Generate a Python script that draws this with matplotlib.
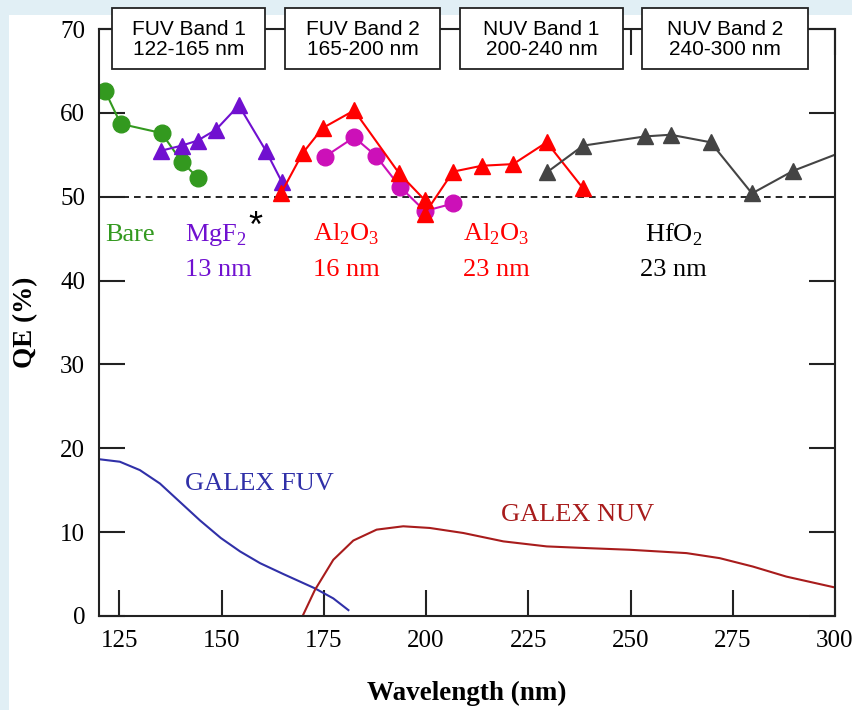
import matplotlib.pyplot as plt
from matplotlib.patches import Rectangle

# measured QE points (wavelength nm, QE %)
bare_x = [121.5, 125.3, 135.3, 140.2, 144.1]
bare_y = [62.6, 58.7, 57.6, 54.2, 52.3]

mgf2_x = [135.2, 140.2, 144.1, 148.6, 154.2, 160.8, 164.7]
mgf2_y = [55.5, 56.1, 56.7, 58.0, 60.9, 55.5, 51.8]

al16_x = [164.5, 169.8, 174.7, 182.4, 193.4, 199.7]
al16_y = [50.4, 55.2, 58.2, 60.3, 52.8, 49.6]

al16b_x = [175.3, 182.4, 187.7, 193.6, 199.7, 206.6]
al16b_y = [54.8, 57.1, 54.9, 51.2, 48.3, 49.2]

al23_x = [199.7, 206.6, 213.6, 221.3, 229.5, 238.4]
al23_y = [48.0, 53.0, 53.7, 53.9, 56.5, 51.0]

hfo2_x = [229.5, 238.4, 253.5, 259.8, 269.6, 279.7, 289.8, 310.0]
hfo2_y = [52.9, 56.1, 57.2, 57.4, 56.5, 50.4, 53.1, 56.9]

# GALEX detector curves
fuv_x = [120, 125.1, 130, 134.9, 139.8, 144.7, 149.8, 154.5, 159.4, 165.1, 172.8, 177.3, 181]
fuv_y = [18.7, 18.4, 17.4, 15.8, 13.6, 11.4, 9.3, 7.7, 6.3, 5.0, 3.3, 2.1, 0.7]

nuv_x = [169.8, 172.8, 177.3, 182.2, 187.9, 194.4, 200.9, 209.1, 218.9, 229.5,
         239.2, 249.8, 263.7, 271.8, 279.9, 288.1, 300]
nuv_y = [0.0, 3.1, 6.7, 9.0, 10.3, 10.7, 10.5, 9.9, 8.9, 8.3,
         8.1, 7.9, 7.5, 6.9, 5.9, 4.7, 3.4]

bands = ["FUV Band 1\n122-165 nm", "FUV Band 2\n165-200 nm",
         "NUV Band 1\n200-240 nm", "NUV Band 2\n240-300 nm"]
band_lo = [123.1, 165.6, 208.3, 252.9]
band_hi = [160.7, 203.5, 248.2, 293.5]

serif = "Liberation Serif"
sans = "Liberation Sans"
plt.rcParams["mathtext.fontset"] = "custom"
plt.rcParams["mathtext.rm"] = serif

fig = plt.figure(figsize=(8.52, 7.1), dpi=100, facecolor="#e1eff5")
fig.patches.append(Rectangle((0.0106, 0), 1, 0.979, transform=fig.transFigure,
                             facecolor="white", edgecolor="none", zorder=-10))
ax = fig.add_axes([0.1162, 0.1324, 0.8638, 0.8266])
ax.set_facecolor("none")

ax.axhline(50, color="black", ls=(0, (4, 3)), lw=1.2, zorder=1)

ms = 12
ax.plot(bare_x, bare_y, "-o", color="#33991f", ms=ms, lw=1.5)
ax.plot(mgf2_x, mgf2_y, "-^", color="#7010d0", ms=ms, lw=1.5)
ax.plot(al16b_x, al16b_y, "-o", color="#cc10b8", ms=ms, lw=1.5)
ax.plot(al16_x, al16_y, "-^", color="#ff0000", ms=ms, lw=1.5)
ax.plot(al23_x, al23_y, "-^", color="#ff0000", ms=ms, lw=1.5)
ax.plot(hfo2_x, hfo2_y, "-^", color="#444444", ms=ms, lw=1.5)

ax.plot(fuv_x, fuv_y, color="#3030a8", lw=1.5)
ax.plot(nuv_x, nuv_y, color="#a81c1c", lw=1.5)

fs = 19
ax.text(121.5, 45.5, "Bare", color="#33991f", fontsize=fs, family=serif, va="center")
ax.text(141.0, 45.5, "MgF$_2$", color="#7010d0", fontsize=fs, family=serif, va="center")
ax.text(158.3, 46.3, "*", color="black", fontsize=26, family=sans, va="center", ha="center")
ax.text(141.0, 41.3, "13 nm", color="#7010d0", fontsize=fs, family=serif, va="center")
ax.text(172.3, 45.5, "Al$_2$O$_3$", color="#ff0000", fontsize=fs, family=serif, va="center")
ax.text(172.3, 41.3, "16 nm", color="#ff0000", fontsize=fs, family=serif, va="center")
ax.text(209.1, 45.5, "Al$_2$O$_3$", color="#ff0000", fontsize=fs, family=serif, va="center")
ax.text(209.1, 41.3, "23 nm", color="#ff0000", fontsize=fs, family=serif, va="center")
ax.text(260.5, 45.5, "HfO$_2$", color="black", fontsize=fs, family=serif, va="center", ha="center")
ax.text(260.5, 41.3, "23 nm", color="black", fontsize=fs, family=serif, va="center", ha="center")
ax.text(141.0, 15.8, "GALEX FUV", color="#3030a8", fontsize=19, family=serif, va="center")
ax.text(218.4, 12.0, "GALEX NUV", color="#a81c1c", fontsize=19, family=serif, va="center")

for name, lo, hi in zip(bands, band_lo, band_hi):
    ax.add_patch(Rectangle((lo, 65.2), hi - lo, 7.3, facecolor="white",
                           edgecolor="#222222", lw=1.3, clip_on=False, zorder=5))
    ax.text((lo + hi) / 2, 68.75, name, ha="center", va="center", fontsize=15,
            family=sans, linespacing=1.1, zorder=6, clip_on=False)

ax.set_xlim(120, 300)
ax.set_ylim(0, 70)
ax.set_xticks([125, 150, 175, 200, 225, 250, 275, 300])
ax.set_yticks(range(0, 71, 10))
ax.tick_params(direction="in", length=19, width=1.5, top=True, right=True,
               labelsize=18, color="#222222", pad=10)
for lab in ax.get_xticklabels() + ax.get_yticklabels():
    lab.set_family(serif)
for sp in ax.spines.values():
    sp.set_linewidth(1.5)
    sp.set_color("#222222")

ax.set_xlabel("Wavelength (nm)", fontsize=19.5, fontweight="bold", family=serif, labelpad=21)
ax.set_ylabel("QE (%)", fontsize=19.5, fontweight="bold", family=serif, labelpad=16)

fig.savefig("out.png", dpi=100, facecolor=fig.get_facecolor())
